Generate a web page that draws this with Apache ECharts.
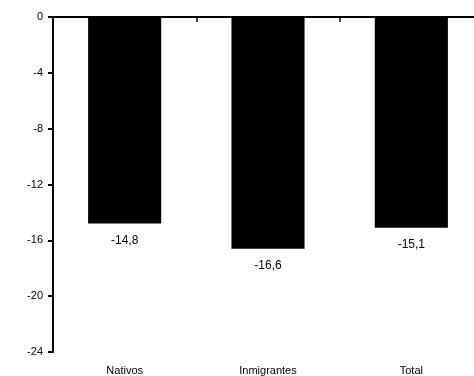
<!DOCTYPE html>
<html><head><meta charset="utf-8">
<script src="https://cdn.jsdelivr.net/npm/echarts@6/dist/echarts.min.js"></script>
<style>html,body{margin:0;padding:0;background:#fff;overflow:hidden;width:474px;height:376px}#c{width:490px;height:376px}</style>
</head><body><div id="c"></div>
<script>
const categories = ['Nativos', 'Inmigrantes', 'Total'];
const values = [-14.8, -16.6, -15.1];
const yTicks = { min: -24, max: 0, interval: 4 };

const chart = echarts.init(document.getElementById('c'), null, { renderer: 'canvas' });
const font = 'Liberation Sans, Arial, sans-serif';
chart.setOption({
  animation: false,
  grid: { left: 53, top: 17, width: 430, bottom: 24, containLabel: false },
  xAxis: [
    {
      type: 'category', data: categories, position: 'top',
      axisLine: { show: true, lineStyle: { color: '#000', width: 2 } },
      axisTick: { show: true, inside: true, length: 5, lineStyle: { color: '#000', width: 1.5 } },
      axisLabel: { show: false }, splitLine: { show: false }
    },
    {
      type: 'category', data: categories, position: 'bottom', gridIndex: 0,
      axisLine: { show: false }, axisTick: { show: false },
      axisLabel: { show: true, color: '#000', fontSize: 11, fontFamily: font, margin: 13 }
    }
  ],
  yAxis: {
    type: 'value', min: yTicks.min, max: yTicks.max, interval: yTicks.interval,
    axisLine: { show: true, lineStyle: { color: '#000', width: 2 } },
    axisTick: { show: true, length: 5, lineStyle: { color: '#000', width: 2 } },
    axisLabel: { color: '#000', fontSize: 11, fontFamily: font, margin: 10 },
    splitLine: { show: false }
  },
  series: [{
    type: 'bar', data: values, xAxisIndex: 0, barWidth: '51%',
    itemStyle: { color: '#000' },
    label: {
      show: true, position: 'bottom', distance: 11, color: '#000', fontSize: 12, fontFamily: font,
      formatter: p => String(p.value).replace('.', ',')
    }
  }]
});
</script></body></html>
